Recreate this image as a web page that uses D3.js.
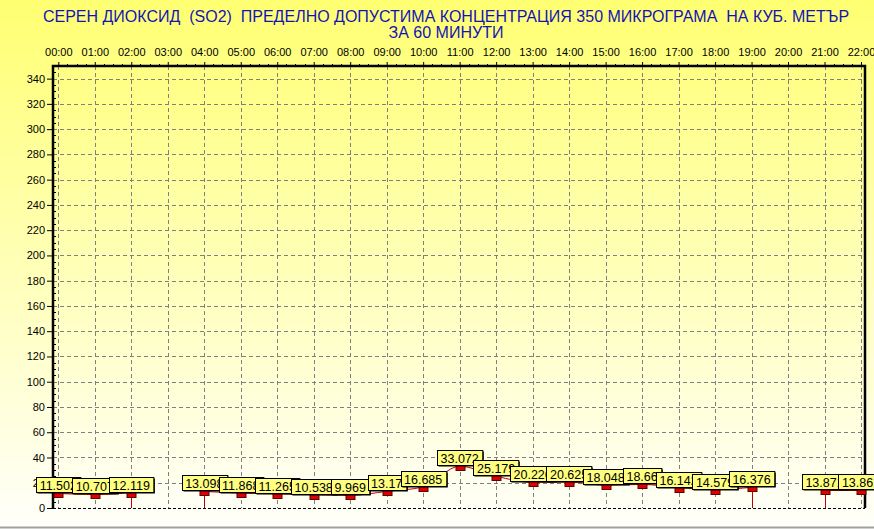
<!DOCTYPE html>
<html><head><meta charset="utf-8">
<script src="https://cdn.jsdelivr.net/npm/d3@7"></script>
<style>html,body{margin:0;padding:0;overflow:hidden;background:#fff}svg{display:block}</style>
</head><body>
<script>
const titleLines = ["СЕРЕН ДИОКСИД  (SO2)  ПРЕДЕЛНО ДОПУСТИМА КОНЦЕНТРАЦИЯ 350 МИКРОГРАМА  НА КУБ. МЕТЪР", "ЗА 60 МИНУТИ"];
const hours = ["00:00","01:00","02:00","03:00","04:00","05:00","06:00","07:00","08:00","09:00","10:00","11:00","12:00","13:00","14:00","15:00","16:00","17:00","18:00","19:00","20:00","21:00","22:00"];
const values = [11.502,10.707,12.119,null,13.098,11.868,11.265,10.538,9.969,13.17,16.685,33.072,25.179,20.226,20.625,18.048,18.66,16.142,14.579,16.376,null,13.871,13.862];
const labels = ["11.502","10.707","12.119",null,"13.098","11.868","11.265","10.538","9.969","13.17","16.685","33.072","25.179","20.226","20.625","18.048","18.66","16.142","14.579","16.376",null,"13.871","13.862"];
const yTicks = d3.range(0, 341, 20);

const W = 874, H = 529;
const L = 53, R = 865, T = 66, B = 508;
const svg = d3.select("body").append("svg").attr("width", W).attr("height", H)
  .style("font-family", "Arial, 'Liberation Sans', sans-serif");

const defs = svg.append("defs");
const g1 = defs.append("linearGradient").attr("id","bg").attr("x1",0).attr("y1",0).attr("x2",0).attr("y2",1);
g1.append("stop").attr("offset","0%").attr("stop-color","#ffff72");
g1.append("stop").attr("offset","100%").attr("stop-color","#fffffb");
svg.append("rect").attr("width",W).attr("height",H).attr("fill","url(#bg)");
svg.append("line").attr("x1",0).attr("x2",W).attr("y1",527.5).attr("y2",527.5).attr("stroke","#a0a0a0").attr("stroke-width",2);

const x = d3.scalePoint().domain(hours).range([58.3, 861]);
const y = d3.scaleLinear().domain([0, 350]).range([B, T]);

// title
svg.append("g").selectAll("text").data(titleLines).join("text")
  .attr("x", 446).attr("y", (d,i) => 22 + i*15.5)
  .attr("text-anchor","middle").attr("font-size", 16).attr("fill","#1414b4")
  .attr("xml:space","preserve").style("white-space","pre")
  .text(d => d);

// grid
const grid = svg.append("g").attr("stroke","#808080").attr("stroke-dasharray","4,3").attr("stroke-width",1);
grid.selectAll(".h").data(yTicks.filter(d=>d>0)).join("line")
  .attr("x1", L).attr("x2", R).attr("y1", d => Math.round(y(d))+0.5).attr("y2", d => Math.round(y(d))+0.5);
grid.selectAll(".v").data(hours).join("line")
  .attr("x1", d => Math.round(x(d))+0.5).attr("x2", d => Math.round(x(d))+0.5).attr("y1", T).attr("y2", B);

// bottom dashed line
svg.append("line").attr("x1",L).attr("x2",R).attr("y1",B+0.5).attr("y2",B+0.5)
  .attr("stroke","#000").attr("stroke-dasharray","3,2");

// left axis
const yAxis = d3.axisLeft(y).tickValues(yTicks).tickSize(6).tickPadding(2);
const ya = svg.append("g").attr("transform",`translate(${L},0)`).call(yAxis);
ya.select(".domain").remove();
ya.selectAll("text").attr("font-size",11).attr("fill","#000").style("font-family","Arial, 'Liberation Sans', sans-serif");
ya.selectAll("line").attr("stroke","#000");
// minor ticks
svg.append("g").selectAll("line").data(d3.range(0, 351, 5).filter(d => d%20 !== 0)).join("line")
  .attr("x1", L).attr("x2", L+3).attr("y1", d => Math.round(y(d))+0.5).attr("y2", d => Math.round(y(d))+0.5)
  .attr("stroke","#000");

// top axis
const xAxis = d3.axisTop(x).tickSize(4).tickPadding(6);
const xa = svg.append("g").attr("transform",`translate(0,${T})`).call(xAxis);
xa.select(".domain").remove();
xa.selectAll("text").attr("font-size",11).attr("fill","#000").style("font-family","Arial, 'Liberation Sans', sans-serif");
xa.selectAll("line").attr("stroke","#000");
const step = x.step();
const minorX = [];
hours.forEach((h,i) => { if (i < hours.length-1) for (let k=1;k<4;k++) minorX.push(x(h) + step*k/4); });
svg.append("g").selectAll("line").data(minorX).join("line")
  .attr("x1", d => Math.round(d)+0.5).attr("x2", d => Math.round(d)+0.5).attr("y1", T-2).attr("y2", T)
  .attr("stroke","#000");

// frame
svg.append("path").attr("d",`M${L},${B}V${T}H${R}V${B}`).attr("fill","none").attr("stroke","#000").attr("stroke-width",2.5);

// data
const pts = hours.map((h,i) => ({h, v: values[i], lab: labels[i], i}));
const line = d3.line().defined(d => d.v !== null).x(d => x(d.h)).y(d => y(d.v)).curve(d3.curveMonotoneX);
svg.append("path").datum(pts).attr("d", line).attr("fill","none").attr("stroke","#c00000").attr("stroke-width",1);

// drops at gaps
const drops = pts.filter(d => d.v !== null && ((d.i>0 && values[d.i-1]===null) || (d.i<values.length-1 && values[d.i+1]===null)));
svg.append("g").selectAll("line").data(drops).join("line")
  .attr("x1", d => Math.round(x(d.h))+0.5).attr("x2", d => Math.round(x(d.h))+0.5)
  .attr("y1", d => y(d.v)).attr("y2", B).attr("stroke","#c00000");

// markers
svg.append("g").selectAll("rect").data(pts.filter(d => d.v !== null)).join("rect")
  .attr("x", d => Math.round(x(d.h)) - 4).attr("y", d => Math.round(y(d.v)) - 0.5)
  .attr("width", 9).attr("height", 5)
  .attr("fill","#e00000").attr("stroke","#600000").attr("stroke-width",1);

// labels
const lg = svg.append("g");
pts.filter(d => d.v !== null).forEach(d => {
  const g = lg.append("g");
  const t = g.append("text").attr("font-size",12.5).attr("fill","#000")
    .attr("text-anchor","middle").attr("x", x(d.h)).attr("y", Math.round(y(d.v)) - 5).text(d.lab);
  const bb = t.node().getBBox();
  const bw = bb.width + 7, bh = 15;
  const bx = Math.round(x(d.h) - bw/2) + 0.5, by = Math.round(y(d.v)) - 1 - bh + 0.5;
  g.insert("rect","text").attr("x", bx+1).attr("y", by+1).attr("width", bw).attr("height", bh).attr("fill","#000");
  g.insert("rect","text").attr("x", bx).attr("y", by).attr("width", bw).attr("height", bh)
    .attr("fill","#ffff80").attr("stroke","#000").attr("stroke-width",1);
  t.attr("y", by + bh/2 + 4.5);
});
</script>
</body></html>
